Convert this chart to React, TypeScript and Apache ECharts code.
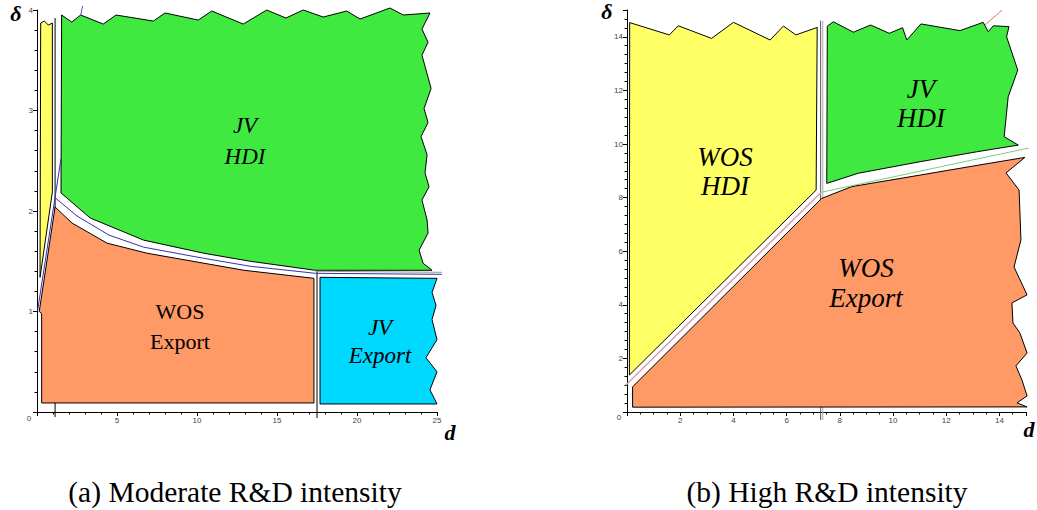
import { useEffect, useRef } from "react";
import * as echarts from "echarts";

// ---------- Panel (a): Moderate R&D intensity ----------
const yellowA = [[0.23, 3.87], [0.46, 3.89], [0.71, 3.85], [0.96, 3.87], [0.96, 2.19], [0.19, 1.34]];
const greenA = [
  [1.54, 3.95], [2.17, 3.88], [2.73, 3.95], [4.14, 3.86], [4.94, 3.95], [7.27, 3.89], [8.0, 3.97],
  [10.08, 3.9], [10.92, 3.99], [12.89, 3.86], [14.36, 4.0], [15.56, 3.92], [16.64, 4.0], [17.89, 3.93],
  [19.36, 3.99], [20.19, 3.91], [22.06, 4.02], [22.89, 3.95], [24.56, 3.97],
  [24.06, 3.81], [24.44, 3.68], [24.06, 3.55], [24.63, 3.22], [24.19, 3.02], [24.44, 2.88], [24.0, 2.74],
  [24.38, 2.56], [24.25, 2.38], [24.5, 2.24], [24.06, 2.11], [24.38, 1.91], [24.44, 1.78], [23.88, 1.61],
  [24.13, 1.48], [24.69, 1.41],
  [17.39, 1.41], [13.33, 1.5], [10.42, 1.58], [6.67, 1.71], [3.33, 1.93], [1.5, 2.18]
];
const orangeA = [
  [0.29, 0.09], [0.29, 0.98], [0.14, 1.0], [1.13, 2.04], [2.19, 1.88], [4.38, 1.68], [6.88, 1.58],
  [10.44, 1.48], [12.94, 1.41], [17.31, 1.33], [17.31, 0.09]
];
const cyanA = [
  [17.69, 1.34], [25.0, 1.33], [24.69, 1.19], [24.94, 1.06], [24.69, 0.92], [25.0, 0.72], [24.31, 0.54],
  [25.0, 0.4], [24.56, 0.22], [25.0, 0.08], [17.69, 0.08]
];
const vLine1A = [[1.13, 3.92], [1.13, -0.05]];
const vLine2A = [[17.5, 1.42], [17.5, -0.06]];
const blueCurveA = [[1.15, 2.13], [2.5, 1.95], [4.5, 1.76], [6.67, 1.64], [10.4, 1.53], [13.33, 1.45], [17.4, 1.38], [25.3, 1.37]];
const grayCurveA = [[17.4, 1.4], [25.3, 1.39]];
const blueDiagA = [[0.04, 1.01], [1.5, 2.52]];
const blueTopA = [[2.73, 3.95], [2.85, 4.04]];

// ---------- Panel (b): High R&D intensity ----------
const yellowB = [
  [0.1, 14.53], [1.59, 14.07], [1.93, 14.41], [3.18, 13.94], [4.0, 14.54], [5.38, 13.88], [5.88, 14.4],
  [6.35, 14.07], [7.15, 14.35], [7.11, 8.28], [0.09, 1.38]
];
const greenB = [
  [7.53, 14.4], [7.76, 14.56], [8.51, 14.17], [9.16, 14.44], [9.86, 14.13], [10.36, 14.34], [10.52, 13.88],
  [11.05, 14.48], [12.52, 14.23], [13.39, 14.54], [13.58, 14.19], [13.77, 14.41], [14.36, 14.38],
  [14.27, 14.0], [14.69, 12.76], [14.33, 11.76], [14.18, 10.27], [14.71, 9.96],
  [13.15, 9.71], [11.02, 9.34], [8.7, 8.91], [7.51, 8.53]
];
const orangeB = [
  [0.21, 0.18], [0.21, 0.94], [7.32, 7.97], [8.45, 8.41], [11.02, 8.84], [13.27, 9.22], [14.96, 9.5],
  [14.25, 8.92], [14.74, 8.28], [14.81, 6.42], [14.55, 5.41], [15.04, 4.37], [14.47, 4.07], [14.51, 3.32],
  [14.77, 2.95], [15.04, 2.2], [14.62, 1.72], [14.85, 1.19], [15.04, 0.6], [14.66, 0.34], [15.04, 0.19]
];
const vLine1B = [[7.28, 14.6], [7.28, -0.3]];
const vLine2B = [[7.36, 14.6], [7.36, -0.3]];
const pinkDiagB = [[-0.05, 1.0], [7.3, 8.2]];
const greenLineB = [[7.3, 8.2], [15.1, 9.85]];
const pinkTopB = [[13.46, 14.44], [14.1, 15.0]];

// ---------- Texts ----------
const captionA = "(a) Moderate R&D intensity";
const captionB = "(b) High R&D intensity";

function polygon(points: number[][], color: string, xi: number, z: number) {
  return {
    type: "custom",
    xAxisIndex: xi,
    yAxisIndex: xi,
    clip: false,
    silent: true,
    z,
    data: [points[0]],
    renderItem: (_p: any, api: any) => ({
      type: "polygon",
      shape: { points: points.map((p) => api.coord(p)) },
      style: { fill: color, stroke: "#000", lineWidth: 1 },
    }),
  };
}

function polyline(points: number[][], color: string, width: number, xi: number, z: number) {
  return {
    type: "custom",
    xAxisIndex: xi,
    yAxisIndex: xi,
    clip: false,
    silent: true,
    z,
    data: [points[0]],
    renderItem: (_p: any, api: any) => ({
      type: "polyline",
      shape: { points: points.map((p) => api.coord(p)) },
      style: { fill: null, stroke: color, lineWidth: width },
    }),
  };
}

function axisBase(min: number, max: number, interval: number, minorSplit: number, hideMax: boolean, xi: number) {
  return {
    type: "value",
    gridIndex: xi,
    min,
    max,
    interval,
    axisLine: { show: true, onZero: false, lineStyle: { color: "#000", width: 1 } },
    axisTick: { show: true, length: 4, lineStyle: { color: "#000" } },
    minorTick: { show: true, splitNumber: minorSplit, length: 2.5, lineStyle: { color: "#000" } },
    splitLine: { show: false },
    minorSplitLine: { show: false },
    axisLabel: {
      fontSize: 8,
      fontFamily: "Liberation Sans",
      color: "#444",
      margin: 4,
      formatter: (v: number) => (v === 0 || (hideMax && v === max) ? "" : String(v)),
    },
  };
}

function txt(
  text: string, x: number, y: number, size: number,
  fontStyle = "normal", fontWeight = "normal", family = "Liberation Serif", color = "#000"
) {
  return {
    type: "text",
    x,
    y,
    z: 100,
    silent: true,
    style: {
      text,
      fontFamily: family,
      fontSize: size,
      fontStyle,
      fontWeight,
      fill: color,
      align: "center",
      verticalAlign: "middle",
      textAlign: "center",
      textVerticalAlign: "middle",
    },
  };
}

export default function App() {
  const ref = useRef<HTMLDivElement>(null);
  useEffect(() => {
    if (!ref.current) return;
    const chart = echarts.init(ref.current, null, { renderer: "svg" });
    chart.setOption({
      animation: false,
      backgroundColor: "#fff",
      grid: [
        { left: 37, top: 10, width: 400, height: 402, outerBoundsMode: "none", containLabel: false },
        { left: 627, top: 10, width: 399, height: 402, outerBoundsMode: "none", containLabel: false },
      ],
      xAxis: [axisBase(0, 25, 5, 5, false, 0), axisBase(0, 15, 2, 4, true, 1)],
      yAxis: [axisBase(0, 4, 1, 5, false, 0), axisBase(0, 15, 2, 6, true, 1)],
      series: [
        polyline(vLine1A, "#000", 1, 0, 1),
        polyline(vLine2A, "#000", 1, 0, 1),
        polygon(yellowA, "#FFFF66", 0, 2),
        polygon(greenA, "#40E940", 0, 2),
        polygon(orangeA, "#FF9966", 0, 2),
        polygon(cyanA, "#00D9FF", 0, 2),
        polyline(blueCurveA, "#3333AA", 1, 0, 3),
        polyline(grayCurveA, "#999999", 1, 0, 3),
        polyline(blueDiagA, "#3333AA", 1, 0, 3),
        polyline(blueTopA, "#5555BB", 1, 0, 3),
        polyline(vLine1B, "#555", 1, 1, 1),
        polyline(vLine2B, "#aaa", 1, 1, 1),
        polygon(yellowB, "#FFFF66", 1, 2),
        polygon(greenB, "#40E940", 1, 2),
        polygon(orangeB, "#FF9966", 1, 2),
        polyline(pinkDiagB, "#D8A0B0", 1.5, 1, 3),
        polyline(greenLineB, "#7CCB7C", 1, 1, 3),
        polyline(pinkTopB, "#E07080", 1, 1, 3),
      ],
      graphic: [
        txt("JV", 245, 125, 23, "italic"),
        txt("HDI", 245, 156, 23, "italic"),
        txt("WOS", 180, 311, 22),
        txt("Export", 180, 341, 22),
        txt("JV", 380, 327, 23, "italic"),
        txt("Export", 380, 355, 23, "italic"),
        txt("WOS", 725, 157, 27, "italic"),
        txt("HDI", 725, 186, 27, "italic"),
        txt("JV", 921, 89, 27, "italic"),
        txt("HDI", 921, 118, 27, "italic"),
        txt("WOS", 866, 268, 27, "italic"),
        txt("Export", 866, 298, 27, "italic"),
        txt("δ", 16, 13, 22, "italic", "bold"),
        txt("δ", 607, 11, 22, "italic", "bold"),
        txt("d", 450, 432, 22, "italic", "bold"),
        txt("d", 1029, 429, 22, "italic", "bold"),
        txt("0", 29, 418, 8, "normal", "normal", "Liberation Sans", "#444"),
        txt("0", 619, 417, 8, "normal", "normal", "Liberation Sans", "#444"),
        txt(captionA, 235, 492, 29.5),
        txt(captionB, 827, 492, 29.5),
      ],
    });
    return () => chart.dispose();
  }, []);
  return <div ref={ref} style={{ position: "absolute", left: 0, top: 0, width: 1037, height: 510 }} />;
}
